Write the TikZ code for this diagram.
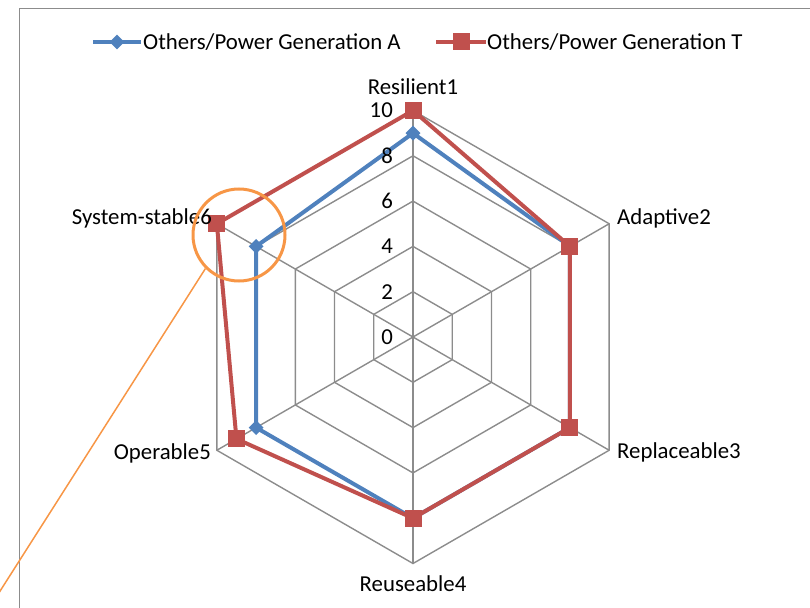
\documentclass[tikz,border=0pt]{standalone}
\usepackage{fontspec}
\setmainfont{Carlito}
\usetikzlibrary{calc}
\definecolor{seriesA}{HTML}{4F81BD}
\definecolor{seriesT}{HTML}{C0504D}
\definecolor{callout}{HTML}{F79646}
\definecolor{gridgray}{HTML}{8C8C8C}
\tikzset{
  lbl/.style={font=\fontsize{22.8}{27}\selectfont, inner sep=0pt, text=black},
  gridline/.style={draw=gridgray, line width=1.4pt},
  lineA/.style={draw=seriesA, line width=4pt, line join=miter},
  lineT/.style={draw=seriesT, line width=4pt, line join=miter},
  markA/.style={fill=seriesA, draw=none, rectangle, rotate=45, minimum size=10.5pt, inner sep=0pt},
  markT/.style={fill=seriesT, draw=none, rectangle, minimum size=17pt, inner sep=0pt},
}
\begin{document}
\begin{tikzpicture}[x=1pt, y=-1pt]
\useasboundingbox (0,0) rectangle (810,607);
\begin{scope}
\clip (0,0) rectangle (810,607);
% chart frame
\draw[gridgray, line width=1.5pt] (19.5,920) -- (19.5,8.5) -- (900,8.5);

% radar area: centre and unit length per value
\begin{scope}[shift={(413,337)}, yscale=-1]
  \def\u{22.65}
  % rings
  \foreach \v in {2,4,6,8,10}{
    \draw[gridline] (90:\v*\u) -- (30:\v*\u) -- (-30:\v*\u) -- (-90:\v*\u)
       -- (-150:\v*\u) -- (150:\v*\u) -- cycle;
  }
  % spokes
  \coordinate (ctr) at (0,0);
  \foreach \a [count=\i] in {90,30,-30,-90,-150,150}{
    \coordinate (ax\i) at (\a:10*\u);
    \draw[gridline] (ctr) -- (ax\i);
  }
  % data points
  \foreach \a/\va/\vt [count=\i] in {90/9/10, 30/8/8, -30/8/8, -90/8/8, -150/8/9, 150/8/10}{
    \coordinate (pa\i) at (\a:\va*\u);
    \coordinate (pt\i) at (\a:\vt*\u);
  }
\end{scope}

% series A
\draw[lineA] (pa1) -- (pa2) -- (pa3) -- (pa4) -- (pa5) -- (pa6) -- cycle;
\foreach \i in {1,...,6}{ \node[markA] (ma\i) at (pa\i) {}; }
% series T
\draw[lineT] (pt1) -- (pt2) -- (pt3) -- (pt4) -- (pt5) -- (pt6) -- cycle;
\foreach \i in {1,...,6}{ \node[markT] (mt\i) at (pt\i) {}; }

% value labels
\foreach \v in {0,2,4,6,8,10}{
  \node[lbl, anchor=east] (val\v) at (393,{337-\v*22.65}) {\v};
}

% axis labels
\node[lbl, anchor=south] (lab1) at (413,95) {Resilient1};
\node[lbl, anchor=west] (lab2) at (617,218) {Adaptive2};
\node[lbl, anchor=west] (lab3) at (617,452) {Replaceable3};
\node[lbl, anchor=north] (lab4) at (413,575) {Reuseable4};
\node[lbl, anchor=east] (lab5) at (211,453) {Operable5};
\node[lbl, anchor=east] (lab6) at (212,218) {System-stable6};

% legend
\coordinate (lgA1) at (93,42);
\coordinate (lgA2) at (141,42);
\draw[lineA] (lgA1) -- (lgA2);
\node[markA] (lgAm) at (117,42) {};
\node[lbl, anchor=west] (lgAt) at (143,42) {Others/Power Generation A};
\coordinate (lgT1) at (436,42);
\coordinate (lgT2) at (486,42);
\draw[lineT] (lgT1) -- (lgT2);
\node[markT] (lgTm) at (461,42) {};
\node[lbl, anchor=west] (lgTt) at (487,42) {Others/Power Generation T};

% callout
\node[draw=callout, line width=3pt, circle, minimum size=92pt, inner sep=0pt] (focus) at (239,235) {};
\coordinate (tail) at (-12,610);
\draw[callout, line width=1.5pt] (focus.225) -- (tail);
\end{scope}
\end{tikzpicture}
\end{document}
